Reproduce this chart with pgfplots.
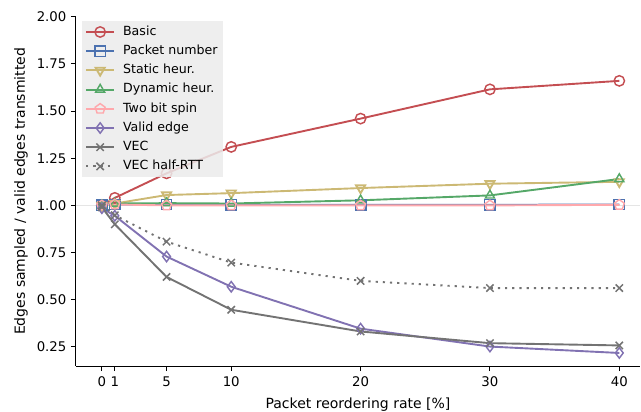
\documentclass[border=0pt]{standalone}
\usepackage{fontspec}
\setmainfont{DejaVu Sans}
\usepackage{pgfplots}
\pgfplotsset{compat=1.18}
\definecolor{cRed}{HTML}{C44E52}
\definecolor{cBlue}{HTML}{4C72B0}
\definecolor{cYel}{HTML}{CCB974}
\definecolor{cGrn}{HTML}{55A868}
\definecolor{cPink}{HTML}{FFA8AC}
\definecolor{cPur}{HTML}{8172B2}
\definecolor{cGray}{HTML}{737373}
\begin{document}
\fontsize{13.3bp}{16bp}\selectfont
\begin{tikzpicture}
\path[use as bounding box] (-76bp,-46bp) rectangle (565bp,366bp);
\begin{axis}[
  at={(0,0)}, anchor=south west,
  scale only axis, width=564bp, height=349.3bp,
  xmin=-2, xmax=41.6, ymin=0.149, ymax=2.0,
  axis x line*=bottom, axis y line*=left,
  axis line style={line width=1bp, black, -},
  xtick={0,1,5,10,20,30,40},
  ytick={0.25,0.5,0.75,1.0,1.25,1.5,1.75,2.0},
  yticklabel style={/pgf/number format/.cd, fixed, fixed zerofill, precision=2},
  /pgf/number format/assume math mode=true,
  tick style={black, line width=1bp},
  major tick length=5bp,
  tick align=outside,
  ticklabel style={font=\fontsize{13.3bp}{16bp}\selectfont},
  xticklabel style={yshift=-1bp},
  xlabel={Packet reordering rate [\%]},
  ylabel={Edges sampled / valid edges transmitted},
  label style={font=\fontsize{14bp}{17bp}\selectfont},
  xlabel style={yshift=-2bp},
  ylabel style={yshift=0bp},
  every axis plot/.append style={line width=1.9bp, mark size=5.2bp, mark options={solid, fill=none, line width=1.45bp}},
  legend style={at={(6bp,344.8bp)}, anchor=north west, fill=black!8, fill opacity=0.85, text opacity=1, draw=none,
    font=\fontsize{12.6bp}{15bp}\selectfont, inner xsep=3bp, inner ysep=2.5bp, row sep=3.0bp,
    nodes={text height=9.5bp, text depth=2.7bp, inner sep=2bp}},
  legend cell align=left,
  legend image code/.code={\draw[mark repeat=2,mark phase=2,#1] plot coordinates {(0bp,0bp) (14bp,0bp) (28bp,0bp)};
     \path (34bp,0bp);},
  clip=false,
]
\draw[black!10, line width=1.4bp] (axis cs:-2,1.0) -- (axis cs:41.6,1.0);
\addplot[cRed, mark=o] coordinates {(0,1.0) (1,1.04) (5,1.17) (10,1.31) (20,1.46) (30,1.615) (40,1.66)};
\addlegendentry{Basic}
\addplot[cBlue, mark=square] coordinates {(0,1.0) (1,1.005) (5,1.005) (10,1.003) (20,1.003) (30,1.003) (40,1.005)};
\addlegendentry{Packet number}
\addplot[cYel, mark=triangle, mark options={rotate=180}] coordinates {(0,1.0) (1,1.01) (5,1.055) (10,1.065) (20,1.092) (30,1.115) (40,1.125)};
\addlegendentry{Static heur.}
\addplot[cGrn, mark=triangle] coordinates {(0,1.0) (1,1.01) (5,1.012) (10,1.01) (20,1.027) (30,1.053) (40,1.14)};
\addlegendentry{Dynamic heur.}
\addplot[cPink, mark=pentagon] coordinates {(0,1.0) (1,1.005) (5,1.0) (10,1.0) (20,1.0) (30,1.0) (40,1.003)};
\addlegendentry{Two bit spin}
\addplot[cPur, mark=diamond] coordinates {(0,0.985) (1,0.945) (5,0.729) (10,0.569) (20,0.347) (30,0.252) (40,0.218)};
\addlegendentry{Valid edge}
\addplot[cGray, mark=x] coordinates {(0,0.99) (1,0.90) (5,0.621) (10,0.447) (20,0.332) (30,0.27) (40,0.258)};
\addlegendentry{VEC}
\addplot[cGray, mark=x, dash pattern=on 2.2bp off 5bp] coordinates {(0,1.0) (1,0.948) (5,0.808) (10,0.697) (20,0.60) (30,0.562) (40,0.562)};
\addlegendentry{VEC half-RTT}
\end{axis}
\end{tikzpicture}
\end{document}
